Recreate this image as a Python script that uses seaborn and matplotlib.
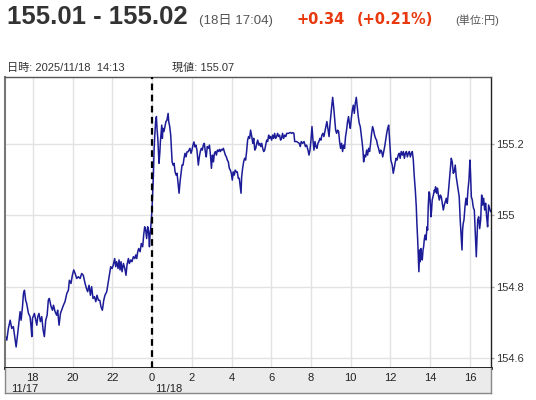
import matplotlib
matplotlib.use('Agg')
import matplotlib.pyplot as plt
import seaborn as sns
import pandas as pd

# ---- data (hours relative to 11/18 00:00, price in JPY) ----
hours_evening = [-7.40,-7.31,-7.23,-7.14,-7.06,-6.98,-6.89,-6.84,-6.76,-6.69,
    -6.64,-6.59,-6.52,-6.47,-6.42,-6.36,-6.31,-6.22,-6.14,-6.09,
    -6.05,-6.02,-5.92,-5.85,-5.80,-5.75,-5.69,-5.62,-5.55,-5.48,
    -5.42,-5.35,-5.28,-5.22,-5.17,-5.08,-5.01,-4.96,-4.88,-4.80,
    -4.75,-4.68,-4.61,-4.55,-4.46,-4.38,-4.29,-4.21,-4.16,-4.08,
    -4.01,-3.94,-3.87,-3.79,-3.71,-3.62,-3.54,-3.46,-3.37,-3.30,
    -3.24,-3.17,-3.10,-3.04,-2.97,-2.90,-2.83,-2.77,-2.70,-2.63,
    -2.57,-2.50,-2.43,-2.37]
price_evening = [154.664,154.650,154.683,154.706,154.683,154.688,154.650,154.631,154.669,154.706,
    154.730,154.706,154.744,154.781,154.790,154.762,154.753,154.725,154.716,154.688,
    154.660,154.711,154.725,154.706,154.692,154.716,154.725,154.702,154.716,154.678,
    154.660,154.706,154.720,154.762,154.767,154.744,154.734,154.748,154.730,154.720,
    154.734,154.692,154.725,154.734,154.748,154.758,154.781,154.790,154.818,154.809,
    154.832,154.847,154.837,154.823,154.828,154.823,154.837,154.832,154.809,154.795,
    154.786,154.804,154.776,154.800,154.767,154.772,154.758,154.776,154.762,154.762,
    154.744,154.734,154.762,154.776]

hours_night = [-2.28,-2.20,-2.15,-2.08,-2.01,-1.95,-1.88,-1.83,-1.78,-1.71,
    -1.66,-1.61,-1.56,-1.51,-1.44,-1.37,-1.31,-1.26,-1.19,-1.14,
    -1.07,-1.01,-0.94,-0.87,-0.82,-0.77,-0.72,-0.67,-0.60,-0.54,
    -0.47,-0.42,-0.37,-0.32,-0.27,-0.22,-0.17,-0.13,-0.10,-0.07,
    -0.03,0.00,0.03,0.07,0.10,0.13,0.18,0.22,0.25,0.29,
    0.32,0.35,0.39,0.42,0.45,0.49,0.52,0.55,0.60,0.65,
    0.70,0.75,0.81,0.84,0.89,0.94,0.97,1.01,1.06,1.11,
    1.16,1.21,1.26,1.31,1.36,1.41,1.46,1.51,1.56,1.61,
    1.66,1.71,1.76,1.81,1.86,1.91,1.96,2.01,2.06,2.11,
    2.16,2.21,2.26]
price_night = [154.786,154.814,154.832,154.856,154.851,154.861,154.879,154.856,154.870,154.851,
    154.875,154.847,154.870,154.842,154.865,154.851,154.832,154.861,154.879,154.865,
    154.875,154.870,154.884,154.879,154.889,154.879,154.898,154.907,154.898,154.921,
    154.912,154.945,154.968,154.959,154.935,154.968,154.954,154.912,154.945,154.963,
    154.991,155.020,155.057,155.113,155.178,155.216,155.263,155.277,155.244,155.216,
    155.178,155.146,155.174,155.206,155.225,155.253,155.216,155.244,155.235,155.249,
    155.263,155.267,155.286,155.263,155.249,155.225,155.192,155.150,155.141,155.146,
    155.122,155.113,155.118,155.090,155.062,155.094,155.118,155.141,155.141,155.160,
    155.174,155.164,155.178,155.178,155.183,155.188,155.174,155.183,155.197,155.206,
    155.192,155.197,155.183]

hours_morning = [2.33,2.38,2.43,2.48,2.53,2.58,2.63,2.68,2.73,2.78,
    2.83,2.89,2.94,2.99,3.04,3.09,3.14,3.19,3.24,3.29,
    3.34,3.39,3.44,3.49,3.54,3.59,3.64,3.69,3.74,3.79,
    3.84,3.89,3.94,3.99,4.04,4.09,4.14,4.19,4.24,4.29,
    4.34,4.39,4.44,4.48,4.51,4.56,4.61,4.66,4.71,4.76,
    4.81,4.86,4.91,4.96,5.02,5.07,5.12,5.17,5.22,5.27,
    5.32,5.37,5.42,5.47,5.52,5.57,5.62,5.67,5.72,5.77,
    5.82,5.87,5.92,5.97,6.02,6.07,6.12,6.17,6.22,6.27,
    6.32,6.37,6.42,6.47,6.52,6.57,6.62,6.68,6.73,6.78,
    6.83,6.88,6.93,6.98,7.03]
price_morning = [155.141,155.164,155.179,155.188,155.183,155.197,155.202,155.179,155.164,155.193,
    155.188,155.197,155.169,155.132,155.169,155.150,155.174,155.179,155.169,155.183,
    155.179,155.185,155.179,155.185,155.183,155.188,155.179,155.169,155.164,155.155,
    155.150,155.132,155.127,155.118,155.099,155.122,155.113,155.127,155.122,155.122,
    155.104,155.104,155.080,155.062,155.108,155.132,155.150,155.160,155.155,155.179,
    155.211,155.221,155.216,155.239,155.221,155.202,155.216,155.183,155.188,155.202,
    155.211,155.197,155.202,155.193,155.202,155.188,155.179,155.183,155.197,155.211,
    155.207,155.225,155.216,155.221,155.211,155.225,155.216,155.230,155.216,155.221,
    155.230,155.221,155.225,155.211,155.216,155.230,155.216,155.225,155.221,155.230,
    155.230,155.230,155.232,155.232,155.230]

hours_tokyo = [7.08,7.14,7.18,7.28,7.36,7.41,7.46,7.51,7.58,7.65,
    7.72,7.78,7.85,7.90,7.95,8.00,8.05,8.10,8.15,8.20,
    8.25,8.30,8.35,8.40,8.45,8.50,8.55,8.60,8.65,8.70,
    8.75,8.80,8.86,8.91,8.96,9.01,9.06,9.09,9.14,9.19,
    9.24,9.29,9.34,9.39,9.44,9.49,9.54,9.59,9.64,9.69,
    9.74,9.79,9.84,9.89,9.93,9.98,10.03,10.08,10.13,10.18,
    10.23,10.28,10.33,10.38,10.43,10.48,10.53,10.58,10.62,10.65,
    10.70,10.75,10.80,10.85,10.90,10.95,11.00,11.05,11.10,11.15,
    11.20,11.25,11.30,11.35,11.40,11.46,11.51,11.56,11.61,11.66,
    11.71,11.76,11.81,11.86,11.91,11.97]
price_tokyo = [155.232,155.230,155.207,155.207,155.204,155.202,155.193,155.207,155.202,155.207,
    155.193,155.197,155.183,155.169,155.183,155.211,155.249,155.211,155.183,155.207,
    155.193,155.188,155.202,155.207,155.216,155.211,155.225,155.230,155.221,155.235,
    155.249,155.263,155.239,155.221,155.258,155.286,155.314,155.331,155.305,155.272,
    155.239,155.230,155.239,155.235,155.207,155.188,155.202,155.179,155.197,155.188,
    155.221,155.239,155.263,155.277,155.258,155.244,155.272,155.295,155.309,155.286,
    155.314,155.331,155.305,155.277,155.258,155.249,155.225,155.202,155.179,155.150,
    155.169,155.164,155.183,155.169,155.188,155.179,155.202,155.230,155.249,155.239,
    155.225,155.216,155.211,155.197,155.188,155.174,155.183,155.179,155.164,155.179,
    155.193,155.211,155.230,155.244,155.253,155.202]

hours_afternoon = [12.02,12.09,12.14,12.19,12.23,12.28,12.33,12.39,12.44,12.49,
    12.54,12.60,12.65,12.70,12.75,12.80,12.85,12.90,12.95,13.00,
    13.05,13.10,13.15,13.20,13.25,13.30,13.33,13.37,13.40,13.43,
    13.47,13.50,13.53,13.57,13.60,13.64,13.67,13.70,13.74,13.79,
    13.84,13.87,13.90,13.94,13.97,14.00,14.04,14.07,14.10,14.16,
    14.21,14.24,14.27,14.32,14.37,14.41,14.46,14.51,14.56,14.61,
    14.66,14.71,14.76,14.81,14.86,14.91,14.96,15.01,15.06,15.11,
    15.16,15.21,15.26,15.31,15.36,15.41,15.46,15.51,15.56,15.60,
    15.63,15.66,15.70,15.75,15.80,15.85,15.90,15.95,16.00,16.03,
    16.07,16.12,16.15,16.18,16.22,16.25,16.28,16.32,16.35,16.39,
    16.44,16.49,16.54,16.59,16.64,16.69,16.74,16.79,16.84,16.89,
    16.94,16.99,17.04]
price_afternoon = [155.155,155.141,155.118,155.132,155.146,155.160,155.155,155.169,155.174,155.160,
    155.179,155.169,155.179,155.160,155.174,155.179,155.164,155.174,155.179,155.164,
    155.174,155.179,155.155,155.108,155.071,155.024,154.977,154.931,154.884,154.842,
    154.903,154.870,154.907,154.884,154.875,154.903,154.912,154.931,154.945,154.931,
    154.968,154.959,155.024,155.066,155.062,155.038,154.996,155.015,155.043,155.057,
    155.071,155.066,155.080,155.062,155.076,155.057,155.043,155.057,155.052,155.034,
    155.015,155.029,155.038,155.048,155.034,155.062,155.094,155.127,155.160,155.150,
    155.118,155.122,155.141,155.108,155.090,155.071,155.052,154.987,154.940,154.903,
    154.959,154.977,154.987,155.024,155.048,155.029,155.071,155.099,155.155,155.118,
    155.052,155.043,155.029,155.020,155.015,154.977,154.940,154.884,154.931,154.987,
    154.996,154.963,154.987,155.057,155.029,155.048,155.015,155.034,154.996,154.968,
    155.029,155.020,155.010]

tick_hours = [-6, -4, -2, 0, 2, 4, 6, 8, 10, 12, 14, 16]
hour_labels = ['18', '20', '22', '0', '2', '4', '6', '8', '10', '12', '14', '16']
date_labels = ['11/17', '11/18']
y_ticks = [154.6, 154.8, 155.0, 155.2]
y_labels = ['154.6', '154.8', '155', '155.2']

# ---- build frame ----
hours = hours_evening + hours_night + hours_morning + hours_tokyo + hours_afternoon
prices = price_evening + price_night + price_morning + price_tokyo + price_afternoon
df = pd.DataFrame({'hour': hours, 'price': prices})

sns.set_style('white')
plt.rcParams['font.family'] = ['Liberation Sans', 'Noto Sans CJK JP', 'DejaVu Sans']

W, H = 536, 400
fig = plt.figure(figsize=(W / 100, H / 100), dpi=100)
fig.patch.set_facecolor('white')

XL = (-7.40, 17.06)
ax = fig.add_axes([5 / W, 1 - 368 / H, 486 / W, 291 / H])
sns.lineplot(data=df, x='hour', y='price', ax=ax, color='#1c1c98',
             linewidth=1.1, estimator=None, sort=False)
ax.set_xlim(*XL)
ax.set_ylim(154.572, 155.388)
ax.set_xticks(tick_hours)
ax.set_yticks(y_ticks)
ax.set_yticklabels(y_labels)
ax.yaxis.tick_right()
ax.tick_params(axis='x', length=0, labelbottom=False)
ax.tick_params(axis='y', length=2, width=1, color='#aaaaaa', pad=2,
               labelsize=8, labelcolor='#333333')
ax.grid(True, color='#e2e2e2', linewidth=1)
ax.set_axisbelow(True)
ax.set_xlabel('')
ax.set_ylabel('')
ax.axvline(0, color='black', linestyle=(0, (3, 2)), linewidth=1.6, zorder=3)
ax.spines['top'].set_color('#555555'); ax.spines['top'].set_linewidth(1)
ax.spines['left'].set_color('#777777'); ax.spines['left'].set_linewidth(1.5)
ax.spines['right'].set_color('#222222'); ax.spines['right'].set_linewidth(1)
ax.spines['bottom'].set_color('#111111'); ax.spines['bottom'].set_linewidth(2)
ax.spines['bottom'].set_zorder(5)

# time axis bar
ax2 = fig.add_axes([5 / W, 1 - 393 / H, 486 / W, 25 / H])
ax2.set_xlim(*XL)
ax2.set_ylim(0, 1)
ax2.set_facecolor('#ebebeb')
ax2.set_xticks([])
ax2.set_yticks([])
for s in ['left', 'right', 'bottom']:
    ax2.spines[s].set_color('#888888')
    ax2.spines[s].set_linewidth(1)
ax2.spines['top'].set_visible(False)
for h, lbl in zip(tick_hours, hour_labels):
    ax2.text(h, 0.6, lbl, ha='center', va='center', fontsize=8, color='#222222')
ax2.text(-7.09, 0.17, date_labels[0], ha='left', va='center', fontsize=8, color='#222222')
ax2.text(0.15, 0.17, date_labels[1], ha='left', va='center', fontsize=8, color='#222222')

# header texts
def fy(px):
    return 1 - px / H

fig.text(7 / W, fy(24), '155.01 - 155.02', fontsize=18.5, fontweight='bold',
         color='#333333', va='baseline')
fig.text(199 / W, fy(24), '(18日 17:04)', fontsize=9.5, color='#555555', va='baseline')
fig.text(297 / W, fy(24), '+0.34', fontsize=10.5, fontweight='bold', color='#e8380d',
         va='baseline', family=['DejaVu Sans'])
fig.text(357 / W, fy(24), '(+0.21%)', fontsize=10.5, fontweight='bold', color='#e8380d',
         va='baseline', family=['DejaVu Sans'])
fig.text(455 / W, fy(24), '(単位:円)', fontsize=8, color='#555555', va='baseline')
fig.text(7 / W, fy(70.5), '日時: 2025/11/18  14:13', fontsize=8, color='#333333', va='baseline')
fig.text(172 / W, fy(70.5), '現値: 155.07', fontsize=8, color='#333333', va='baseline')

fig.savefig('out.png', dpi=100, facecolor='white')
